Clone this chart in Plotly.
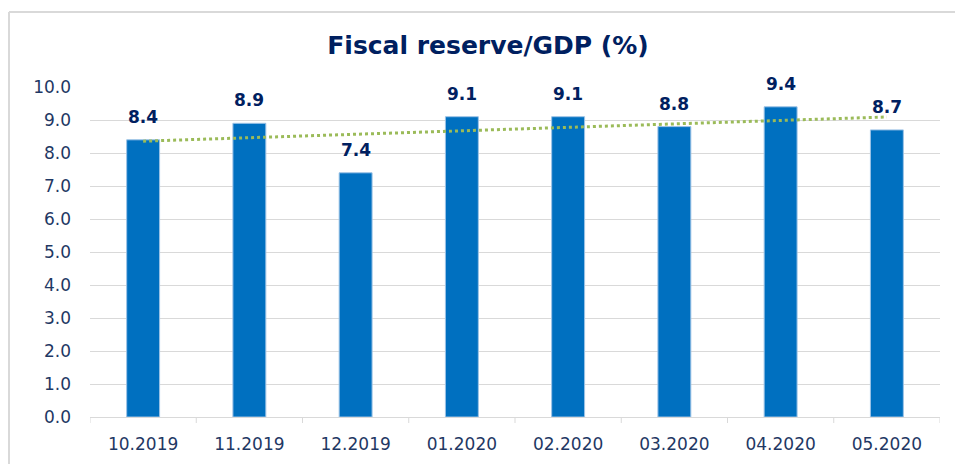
import numpy as np
import plotly.graph_objects as go

# Monthly fiscal reserve as a share of GDP (%)
months = ["10.2019", "11.2019", "12.2019", "01.2020", "02.2020", "03.2020", "04.2020", "05.2020"]
reserve_pct = [8.4, 8.9, 7.4, 9.1, 9.1, 8.8, 9.4, 8.7]
y_ticks = [0, 1, 2, 3, 4, 5, 6, 7, 8, 9, 10]

W, H = 955, 464
M_L, M_R, M_T, M_B = 90, 15, 87, 47
PW, PH = W - M_L - M_R, H - M_T - M_B

NAVY = "#002060"
TICK_NAVY = "#1F3864"
BAR_BLUE = "#0070C0"
TREND_GREEN = "#9BBB59"
GRID = "#D9D9D9"
FONT = "DejaVu Sans, Verdana, sans-serif"

# Linear trend line across the months
idx = np.arange(len(months))
slope, intercept = np.polyfit(idx, reserve_pct, 1)
trend = slope * idx + intercept

fig = go.Figure()
fig.add_trace(go.Bar(
    x=idx, y=reserve_pct, width=0.31,
    marker=dict(color=BAR_BLUE, line=dict(color="#9DC3E6", width=1)),
    hovertext=months, hoverinfo="text+y",
))
fig.add_trace(go.Scatter(
    x=idx, y=trend, mode="lines",
    line=dict(color=TREND_GREEN, width=3, dash="dot"),
    hoverinfo="skip",
))

# Value labels above each bar
for i, v in zip(idx, reserve_pct):
    fig.add_annotation(
        x=int(i), y=v, text=f"<b>{v:.1f}</b>", showarrow=False,
        yanchor="bottom", yshift=11,
        font=dict(family=FONT, size=17, color=NAVY),
    )

# Chart frame: left and top edges
bx = (9 - M_L) / PW
by = 1 + (M_T - 12) / PH
fig.add_shape(type="line", xref="paper", yref="paper",
              x0=bx, x1=bx, y0=-0.3, y1=by, line=dict(color=GRID, width=2))
fig.add_shape(type="line", xref="paper", yref="paper",
              x0=bx, x1=1.1, y0=by, y1=by, line=dict(color=GRID, width=2))

# Category boundary ticks below the axis line
for b in np.arange(len(months) + 1) - 0.5:
    fig.add_shape(type="line", xref="x", yref="paper",
                  x0=b, x1=b, y0=0, y1=-6 / PH, line=dict(color=GRID, width=1))

fig.update_layout(
    width=W, height=H,
    margin=dict(l=M_L, r=M_R, t=M_T, b=M_B),
    paper_bgcolor="white", plot_bgcolor="white",
    showlegend=False,
    title=dict(
        text="<b>Fiscal reserve/GDP (%)</b>",
        x=488 / W, xanchor="center", xref="container",
        y=1 - 45 / H, yanchor="middle", yref="container",
        font=dict(family=FONT, size=25, color=NAVY),
    ),
    xaxis=dict(
        range=[-0.5, len(months) - 0.5], automargin=False,
        tickvals=idx, ticktext=months, tickangle=0,
        showgrid=False, zeroline=False,
        showline=True, linecolor=GRID, linewidth=1,
        ticks="", ticklabelstandoff=12,
        tickfont=dict(family=FONT, size=17, color=TICK_NAVY),
    ),
    yaxis=dict(
        range=[0, 10], tickvals=y_ticks, automargin=False,
        ticktext=[f"{t:.1f}" for t in y_ticks],
        showgrid=True, gridcolor=GRID, gridwidth=1,
        zeroline=False, showline=False, ticks="",
        ticklabelstandoff=18,
        tickfont=dict(family=FONT, size=17, color=TICK_NAVY),
    ),
)

fig.write_html("out.html")
